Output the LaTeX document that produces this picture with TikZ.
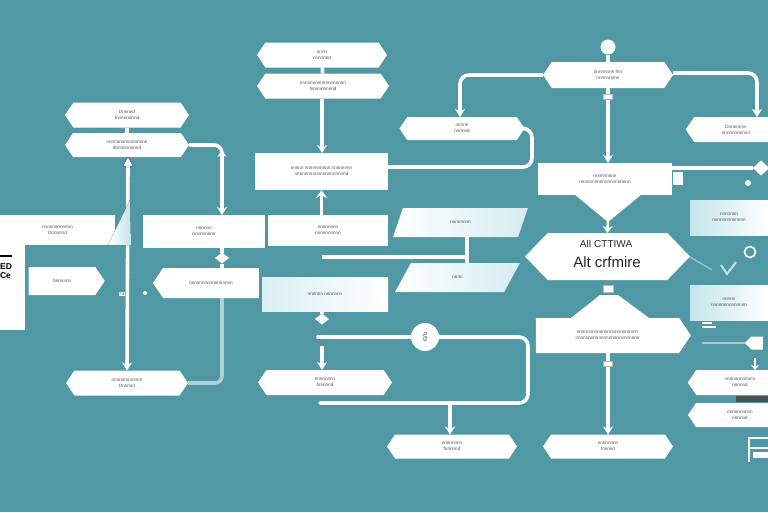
\documentclass[tikz,border=0pt]{standalone}
\usepackage{fontspec}
\setmainfont{Liberation Sans}
\usetikzlibrary{shapes.symbols,shapes.geometric,arrows.meta,calc}
\definecolor{bg}{RGB}{80,153,164}
\definecolor{pale}{RGB}{196,228,235}
\definecolor{ink}{RGB}{75,80,82}
\begin{document}
\begin{tikzpicture}[x=1pt,y=-1pt,
  every node/.style={inner sep=0pt,outer sep=0pt},
  tinytxt/.style={font=\fontsize{4.6}{6}\selectfont, text=ink, align=center},
  hexbox/.style={signal, signal to=west and east, signal pointer angle=112, fill=white, minimum height=25, tinytxt},
  leftbox/.style={signal, signal to=west, signal pointer angle=112, fill=white, minimum height=25, tinytxt},
  rightbox/.style={signal, signal to=east, signal pointer angle=112, fill=white, minimum height=28, tinytxt},
  rectbox/.style={rectangle, fill=white, tinytxt},
  gradbox/.style={rectangle, left color=pale, right color=white, tinytxt},
  para/.style={trapezium, trapezium left angle=55, trapezium right angle=125, trapezium stretches=true, left color=white, right color=pale!70!white, tinytxt},
  dmd/.style={diamond, fill=white, minimum width=14, minimum height=11},
  conn/.style={draw=white, line width=3.6pt},
  arr/.style={-{Stealth[length=8pt,width=10pt]}},
  plug/.style={rectangle, fill=white, draw=ink!40, line width=0.4pt, minimum width=9, minimum height=5}
]
\useasboundingbox (0,0) rectangle (768,512);
\fill[bg] (0,0) rectangle (768,512);

% ---------------- left column ----------------
\node[hexbox, minimum width=124] (L1) at (127,115) {Dnnnnd\\ fnnnnnnnnd};
\node[hexbox, minimum width=124, minimum height=24] (L2) at (127,145) {nnnnnnnnnnnnnnnn\\ ddnnnnnnnnd};
\node[isosceles triangle, isosceles triangle apex angle=60, shape border rotate=90, fill=white, draw=ink, line width=0.5pt, minimum size=9] (Ltri) at (128,163) {};
\node[hexbox, minimum width=122] (LB) at (127,383) {nnnnnnnnnnnn\\ Dnnnnd};
\draw[conn] (L1) -- (L2);
\draw[conn,arr] (Ltri.south) -- (LB.north);

% F-shaped block at left edge
\node[rectbox, minimum width=115, minimum height=30] (FL1) at (57.5,230) {nnnnnnnnnnnn\\ Dnnnnnd};
\node[rectbox, minimum width=25, minimum height=85] (FL2) at (12.5,287.5) {};
\node[rightbox, minimum width=76] (FL3) at (62,281) {Snnnnnn};
\fill[left color=white, right color=pale] (108,245) -- (130,200) -- (131,245) -- cycle;
\node[font=\bfseries\fontsize{8.5}{9}\selectfont, text=black, align=left] (blk) at (6,271) {ED\\Ce};
\draw[black, line width=1.6pt] (0,256) -- (12,256);
\node[font=\fontsize{5}{5}\selectfont, text=ink, fill=white, inner sep=0.6pt] (eq) at (122,294) {=±};
\node[circle, fill=white, minimum size=4] (dot1) at (145,293) {};

% middle-left
\node[rectbox, minimum width=122, minimum height=33] (M1) at (204,231.5) {nnnnnn\\ nnnnnnnnn};
\node[dmd] (dm1) at (222,258) {};
\node[leftbox, minimum width=106, minimum height=30] (M2) at (211,283) {nnnnnnnnnnnnnnnnn};
\draw[conn,rounded corners=8,arr] (L2.east) -| ([xshift=18pt]M1.north);
\draw[white,line width=3pt,-{Stealth[length=7pt,width=9pt]}] (222,162) -- (222,150);
\draw[conn] ([xshift=18pt]M1.south) -- (dm1) -- (dm1 |- M2.north);
\draw[conn,rounded corners=7,opacity=0.55] (dm1 |- M2.south) |- (LB.east);

% ---------------- centre column ----------------
\node[hexbox, minimum width=130] (C1) at (322,55) {nnnn\\ nnnnnnd};
\node[hexbox, minimum width=132] (C2) at (323,86) {nnnnnnnnnnnnnnnnnn\\ fnnnnnnnnnd};
\node[rectbox, minimum width=133, minimum height=37] (C3) at (321.5,171.5) {nnnnn nnnnnnnnnn nnnnnnnn\\ nnnnnnnnnnnnnnnnnnnnd};
\node[rectbox, minimum width=120, minimum height=31] (C4) at (328,230.5) {nnnnnnnn\\ nnnnnnnnnn};
\node[gradbox, minimum width=126, minimum height=34, left color=pale!60!white] (C5) at (325,294) {nnnnnn nnnnnnn};
\node[dmd] (dm2) at (322,319) {};
\node[hexbox, minimum width=134] (C6) at (325,382.5) {nnnnnnnn\\ fnnnnnd};
\draw[conn] (C1) -- (C2);
\draw[conn,arr] (C2.south -| C1.south) -- (C3.north -| C1.south);
\draw[white,line width=3pt,-{Stealth[length=8pt,width=11pt]}] (C4.north -| C3.south) -- (C3.south);
\draw[conn] (C5.south -| dm2) -- (dm2);
\draw[conn,arr] (322,346) -- (C6.north -| 322,0);

% loop line with circle
\coordinate (s1) at (318,337);
\node[circle, fill=white, minimum size=28, font=\fontsize{6}{6}\selectfont, text=ink] (G) at (425,337) {\rotatebox{90}{G/b}};
\coordinate (e1) at (320,403);
\coordinate (j2) at (450,403);
\node[hexbox, minimum width=130, minimum height=24] (B1) at (452,446.5) {nnnnnnnn\\ fnnnnnd};
\draw[conn,line cap=round] (s1) -- (G.west);
\draw[conn,line cap=round,rounded corners=9] (G.east) -- (528,337) -- (528,403) -- (e1);
\draw[conn,arr] (j2) -- (B1.north -| j2);

% parallelograms
\node[para, minimum width=135, minimum height=29] (P1) at (460.5,222.5) {nnnnnnnn};
\node[para, minimum width=125, minimum height=29] (P2) at (457.5,277.5) {nnnn};
\coordinate (h1) at (322,257);
\coordinate (h2) at (467,257);
\draw[conn] (h1) -- (h2);
\draw[conn] (P1.south -| h2) -- (P2.north -| h2);

% box fed from C3
\node[hexbox, minimum width=125, minimum height=23] (R0) at (462,128.5) {nnnnn\\ nnnnnd};
\draw[conn,rounded corners=9] ([yshift=4.5pt]C3.east) -- (532,167) -- (532,128.5) -- (R0.east);

% ---------------- top right ----------------
\node[circle, fill=white, minimum size=15] (tc) at (608,47) {};
\node[hexbox, minimum width=130, minimum height=26] (T1) at (608,75) {nnnnnnnn fnn\\ nnnnnnnnn};
\node[leftbox, minimum width=92, minimum height=25] (R1) at (736,129.5) {Dnnnnnnn\\ nnnnnnnnnnn};
\draw[conn] (tc) -- (T1);
\draw[conn,rounded corners=9,arr] (T1.west) -| (R0.north -| 460,0);
\draw[conn,rounded corners=9,arr] ([yshift=2pt]T1.east) -| ([xshift=21pt]R1.north);
\node[rectbox, minimum width=134, minimum height=32] (C7) at (605,179) {nnnnnnnnn\\ nnnnnnnnnnnnnnnnnnnn};
\draw[conn,arr] (T1.south -| tc) -- (C7.north -| tc);
\node[plug] (pl1) at (608,97) {};

% funnel + central decision
\fill[white] (574,194) -- (642,194) -- (608,222) -- cycle;
\node[signal, signal to=west and east, signal pointer angle=92, fill=white, minimum width=165, minimum height=47] (CH) at (607.5,256.5) {};
\draw[white,line width=2.5pt,-{Stealth[length=7pt,width=10pt]}] (608,218) -- (CH.north);
\node[font=\fontsize{10}{10}\selectfont, text=black!85] (ghost) at (606,244) {AlI CTTIWA};
\node[font=\fontsize{15}{15}\selectfont, text=black!85] (CHt) at (607,262) {Alt crfmire};

% lower decision part
\node[plug, minimum width=10, minimum height=7] (pl2) at (608,289) {};
\fill[white] (600,295) -- (618,295) -- (649,318) -- (571,318) -- cycle;
\node[rightbox, minimum width=155, minimum height=35] (C8) at (607.5,335.5) {nnnnnnnnnnnnnnnnnnnnnnnn\\ nnnnnnnnnnnnnnnnnnnnnnnnn};
\node[hexbox, minimum width=130, minimum height=24] (B2) at (608,446.5) {nnnnnnnn\\ fnnnnd};
\draw[conn,arr] (C8.south -| tc) -- (B2.north -| tc);
\node[plug] (pl3) at (608,364) {};

% ---------------- right edge ----------------
\node[rectangle, fill=white!80!pale, minimum width=10, minimum height=13] (gsq) at (678,178) {};
\node[diamond, fill=white, minimum width=17, minimum height=15, draw=ink!40, line width=0.3pt] (ric) at (761,168) {};
\draw[conn] ([yshift=11pt]C7.east) -- (ric.west);
\node[circle, fill=white, minimum size=6] (dot2) at (748,183) {};
\node[gradbox, minimum width=78, minimum height=35] (R2) at (729,217.5) {nnnnnnn\\ nnnnnnnnnnnnn};
\node[circle, draw=white, line width=1.6pt, minimum size=11] (loop) at (750,252) {};
\draw[white, opacity=0.4, line width=1.5pt] (690,257) -- (712,270);
\draw[pale, line width=2pt] (721,265) -- (727,274) -- (736,262);
\node[gradbox, minimum width=78, minimum height=35] (R3) at (729,302.5) {nnnnn\\ nnnnnnnnnnnnnn};
\draw[white, line width=1.5pt] (702,323) -- (712,323) (702,327) -- (716,327);
\node[signal, signal to=west, fill=white, minimum width=18, minimum height=13] (rar) at (757,343) {};
\draw[white, opacity=0.5, line width=2.5pt] (702,343) -- (rar.west);
\node[leftbox, minimum width=96, minimum height=25] (R4) at (740,382.5) {nnnnnnnnnnnn\\ nnnnnd};
\draw[white,line width=2pt,-{Stealth[length=5pt,width=8pt]}] (755,358) -- (R4.north -| 755,0);
\fill[ink] (736,396) rectangle (768,402);
\node[leftbox, minimum width=96, minimum height=24] (R5) at (740,415) {nnnnnnnnnn\\ nnnnnd};
\draw[white, line width=1.4pt] (749,462) -- (749,438) -- (768,438) (749,448) -- (768,448);
\fill[white] (753,452) rectangle (768,458);
\end{tikzpicture}
\end{document}
